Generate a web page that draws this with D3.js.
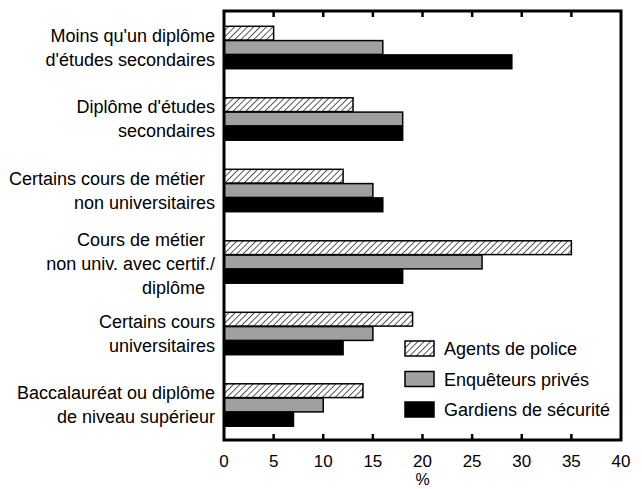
<!DOCTYPE html>
<html>
<head>
<meta charset="utf-8">
<script src="https://cdn.jsdelivr.net/npm/d3@7"></script>
<style>
body { margin: 0; background: #fff; }
text { font-family: "Liberation Sans", Arial, sans-serif; fill: #000; }
</style>
</head>
<body>
<svg id="chart" width="642" height="489"></svg>
<script>
var categories = [
	["Moins qu'un diplôme", "d'études secondaires"],
	["Diplôme d'études", "secondaires"],
	["Certains cours de métier  ", "non universitaires"],
	["Cours de métier  ", "non univ. avec certif./", "diplôme  "],
	["Certains cours", "universitaires"],
	["Baccalauréat ou diplôme", "de niveau supérieur"]
];
var seriesNames = ["Agents de police", "Enquêteurs privés", "Gardiens de sécurité"];
var police = [5, 13, 12, 35, 19, 14];
var prives = [16, 18, 15, 26, 15, 10];
var gardiens = [29, 18, 16, 18, 12, 7];
var xTicks = [0, 5, 10, 15, 20, 25, 30, 35, 40];

var allSeries = [police, prives, gardiens];
var fills = ["url(#hatch)", "#a0a0a0", "#000"];

var plotLeft = 224, plotRight = 621, plotTop = 11, plotBottom = 440;

var svg = d3.select("#chart");

//hatch pattern for the police bars
var defs = svg.append("defs");
var pat = defs.append("pattern")
	.attr("id", "hatch")
	.attr("patternUnits", "userSpaceOnUse")
	.attr("width", 4.5).attr("height", 4.5)
	.attr("patternTransform", "rotate(45)");
pat.append("rect").attr("width", 4.5).attr("height", 4.5).attr("fill", "#fff");
pat.append("line")
	.attr("x1", 0).attr("y1", 0).attr("x2", 0).attr("y2", 4.5)
	.attr("stroke", "#000").attr("stroke-width", 1.3);

var x = d3.scaleLinear().domain([0, 40]).range([plotLeft, plotRight]);
var y = d3.scaleBand().domain(d3.range(categories.length)).range([plotTop, plotBottom]).paddingInner(0.4).paddingOuter(0.2);
var ySub = d3.scaleBand().domain(d3.range(3)).range([0, y.bandwidth()]);

var g = svg.append("g");

allSeries.forEach(function(vals, s) {
	g.selectAll(".bar" + s)
		.data(vals)
		.enter().append("rect")
		.attr("x", x(0))
		.attr("y", function(d, i) { return y(i) + ySub(s) + 1; })
		.attr("width", function(d) { return x(d) - x(0); })
		.attr("height", ySub.bandwidth() - 0.5)
		.attr("fill", fills[s])
		.attr("stroke", "#000")
		.attr("stroke-width", 1.5);
});

//frame
svg.append("rect")
	.attr("x", plotLeft).attr("y", plotTop)
	.attr("width", plotRight - plotLeft).attr("height", plotBottom - plotTop)
	.attr("fill", "none").attr("stroke", "#000").attr("stroke-width", 3);

//inside ticks, top and bottom
var tickG = svg.append("g");
xTicks.slice(1, -1).forEach(function(t) {
	tickG.append("line").attr("x1", x(t)).attr("x2", x(t)).attr("y1", plotBottom).attr("y2", plotBottom - 6)
		.attr("stroke", "#000").attr("stroke-width", 2.5);
	tickG.append("line").attr("x1", x(t)).attr("x2", x(t)).attr("y1", plotTop).attr("y2", plotTop + 6)
		.attr("stroke", "#000").attr("stroke-width", 2.5);
});

svg.selectAll(".tlab")
	.data(xTicks)
	.enter().append("text")
	.attr("x", function(d) { return x(d); })
	.attr("y", 467)
	.attr("text-anchor", "middle")
	.attr("font-size", 17)
	.text(function(d) { return d; });

svg.append("text").attr("x", x(20)).attr("y", 485).attr("text-anchor", "middle")
	.attr("font-size", 16).text("%");

//category labels
categories.forEach(function(lines, i) {
	var cy = y(i) + y.bandwidth() / 2 + (lines.length > 2 ? 3 : 1);
	var lh = 24;
	var t = svg.append("text")
		.attr("xml:space", "preserve")
		.attr("text-anchor", "end")
		.attr("font-size", 18);
	lines.forEach(function(l, k) {
		t.append("tspan")
			.attr("x", 215)
			.attr("y", cy + (k - (lines.length - 1) / 2) * lh + 6)
			.text(l);
	});
});

//legend
var leg = svg.append("g").attr("transform", "translate(405,341)");
seriesNames.forEach(function(n, i) {
	leg.append("rect")
		.attr("x", 0).attr("y", i * 30.5)
		.attr("width", 29).attr("height", 15)
		.attr("fill", fills[i]).attr("stroke", "#000").attr("stroke-width", 1.5);
	leg.append("text")
		.attr("x", 39).attr("y", i * 30.5 + 14)
		.attr("font-size", 18)
		.text(n);
});
</script>
</body>
</html>
